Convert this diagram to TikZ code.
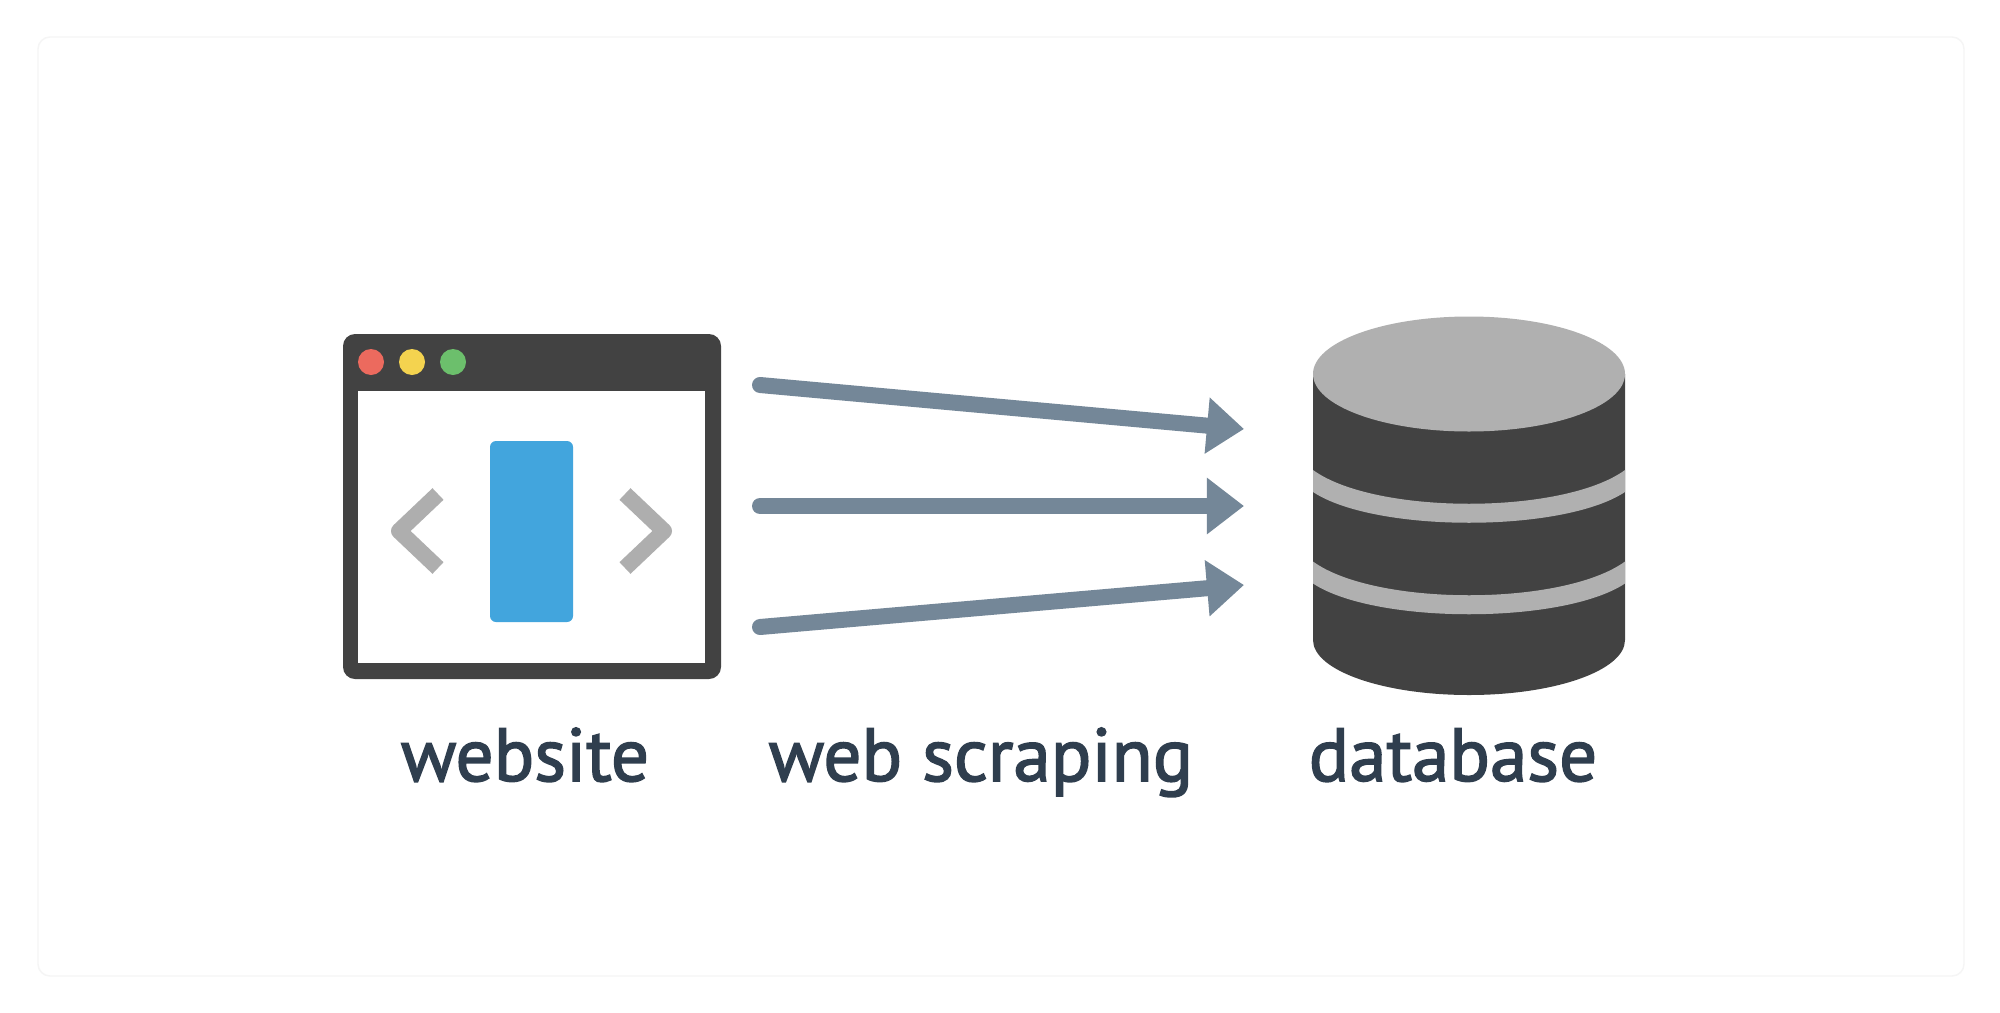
\documentclass[tikz,border=0pt]{standalone}
\usepackage{fontspec}
\setmainfont[FakeBold=2]{PT Sans}
\usetikzlibrary{arrows.meta}
\definecolor{windark}{HTML}{424242}
\definecolor{chevgray}{HTML}{AEAEAE}
\definecolor{slideblue}{HTML}{42A5DD}
\definecolor{arrowslate}{HTML}{748798}
\definecolor{labelink}{HTML}{2F3E4E}
\definecolor{dotred}{HTML}{EC6A5E}
\definecolor{dotyellow}{HTML}{F4D34F}
\definecolor{dotgreen}{HTML}{6CBF6C}
\definecolor{dbgray}{HTML}{B0B0B0}
\tikzset{
    chevron/.style={draw=chevgray, line width=0.16cm, line join=round},
    scrape/.style={draw=arrowslate, line width=0.16cm, line cap=round, -{Triangle[length=3.7mm,width=5.4mm]}},
    caption/.style={anchor=base, text=labelink, font=\fontsize{21.4}{24}\selectfont},
}
\begin{document}
\begin{tikzpicture}[x=0.01cm, y=-0.01cm]
    \useasboundingbox (0,0) rectangle (2000,1012);
    \fill[white] (0,0) rectangle (2000,1012);
    \draw[black!4, rounded corners=0.12cm] (38,37) rectangle (1964,976);

    % window
    \fill[windark, rounded corners=0.12cm] (343,334) rectangle (721,679);
    \fill[white] (358,391) rectangle (705,663);
    \fill[dotred] (371,362) circle (13);
    \fill[dotyellow] (412,362) circle (13);
    \fill[dotgreen] (453,362) circle (13);
    \fill[slideblue, rounded corners=0.06cm] (490,441) rectangle (573,622);
    \draw[chevron] (438,494) -- (399,531) -- (438,568);
    \draw[chevron] (625,494) -- (664,531) -- (625,568);

    % arrows
    \coordinate (from1) at (760,385);
    \coordinate (to1) at (1244,429);
    \coordinate (from2) at (760,506);
    \coordinate (to2) at (1244,506);
    \coordinate (from3) at (760,627);
    \coordinate (to3) at (1244,585);
    \foreach \i in {1,2,3}
        \draw[scrape] (from\i) -- (to\i);

    % database
    \fill[windark] (1313,374) -- (1313,640) arc[start angle=180, end angle=0, x radius=156, y radius=55] -- (1625,374) -- cycle;
    \foreach \dy in {0,91.5} {
        \begin{scope}[shift={(0,\dy)}]
        \fill[dbgray] (1313,470) .. controls (1375,515) and (1563,515) .. (1625,470) -- (1625,492) .. controls (1563,533) and (1375,533) .. (1313,492) -- cycle;
        \end{scope}
    }
    \fill[dbgray] (1469,374) ellipse (156 and 57.5);

    \node[caption] (website) at (525,781) {website};
    \node[caption] (scraping) at (981,781) {web scraping};
    \node[caption] (database) at (1453,781) {database};
\end{tikzpicture}
\end{document}
